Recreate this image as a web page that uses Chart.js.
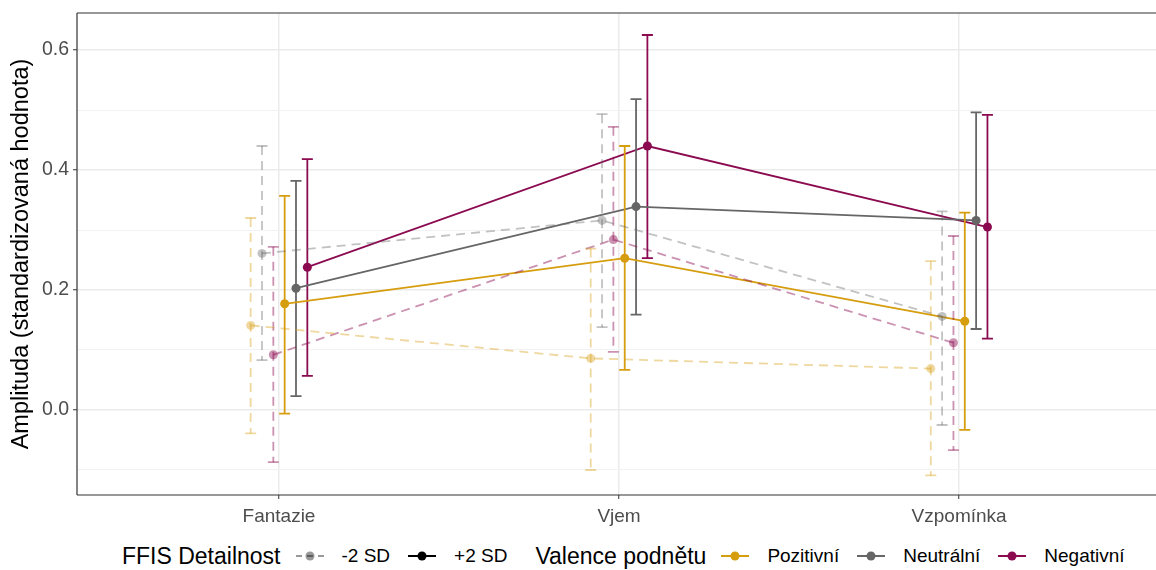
<!DOCTYPE html>
<html lang="cs">
<head>
    <meta charset="UTF-8">
    <title>Amplituda podle FFIS Detailnosti</title>
    <script src="https://cdn.jsdelivr.net/npm/chart.js"></script>
    <style>
        html, body { margin: 0; padding: 0; background: #fff; overflow: hidden; font-family: "Liberation Sans", Arial, sans-serif; }
        .wrap { position: relative; width: 1156px; height: 570px; overflow: hidden; }
        #chart { position: absolute; left: 0; top: 0; }
        .legend { position: absolute; left: 122px; top: 540px; height: 32px; display: flex; align-items: center; white-space: nowrap; }
        .legend .title { font-size: 23px; color: #000; margin-right: 14px; }
        .legend .item { display: flex; align-items: center; font-size: 19px; color: #000; margin-right: 17px; }
        .legend svg { margin-right: 17px; }
        .legend .gap { margin-right: 28px; }
    </style>
</head>
<body>
<div class="wrap">
    <canvas id="chart" width="1156" height="535"></canvas>
    <div class="legend" id="legend"></div>
</div>
<script>
    // categories and groups
    const categories = ['Fantazie', 'Vjem', 'Vzpomínka'];
    const valences = ['Pozitivní', 'Neutrální', 'Negativní'];
    const detailLevels = ['-2 SD', '+2 SD'];

    // -2 SD estimates and confidence limits
    const pozMinus   = [0.141, 0.086, 0.069];
    const pozMinusLo = [-0.039, -0.100, -0.109];
    const pozMinusHi = [0.320, 0.269, 0.248];
    const neuMinus   = [0.261, 0.316, 0.156];
    const neuMinusLo = [0.083, 0.138, -0.025];
    const neuMinusHi = [0.440, 0.493, 0.331];
    const negMinus   = [0.092, 0.284, 0.112];
    const negMinusLo = [-0.087, 0.097, -0.067];
    const negMinusHi = [0.272, 0.472, 0.290];

    // +2 SD estimates and confidence limits
    const pozPlus   = [0.177, 0.253, 0.148];
    const pozPlusLo = [-0.006, 0.067, -0.033];
    const pozPlusHi = [0.357, 0.440, 0.329];
    const neuPlus   = [0.203, 0.339, 0.316];
    const neuPlusLo = [0.023, 0.159, 0.135];
    const neuPlusHi = [0.382, 0.518, 0.496];
    const negPlus   = [0.238, 0.440, 0.305];
    const negPlusLo = [0.057, 0.253, 0.119];
    const negPlusHi = [0.418, 0.625, 0.492];

    const yTicks = [-0.1, 0, 0.1, 0.2, 0.3, 0.4, 0.5, 0.6];
    const yLabelTicks = [0, 0.2, 0.4, 0.6];

    const colors = { 'Pozitivní': '#d69d0e', 'Neutrální': '#666666', 'Negativní': '#8b0a50' };
    const fadedColors = { 'Pozitivní': 'rgba(214,157,14,0.4)', 'Neutrální': 'rgba(102,102,102,0.4)', 'Negativní': 'rgba(139,10,80,0.45)' };

    const series = [
        { val: 'Pozitivní', sd: '-2 SD', y: pozMinus, lo: pozMinusLo, hi: pozMinusHi },
        { val: 'Neutrální', sd: '-2 SD', y: neuMinus, lo: neuMinusLo, hi: neuMinusHi },
        { val: 'Negativní', sd: '-2 SD', y: negMinus, lo: negMinusLo, hi: negMinusHi },
        { val: 'Pozitivní', sd: '+2 SD', y: pozPlus, lo: pozPlusLo, hi: pozPlusHi },
        { val: 'Neutrální', sd: '+2 SD', y: neuPlus, lo: neuPlusLo, hi: neuPlusHi },
        { val: 'Negativní', sd: '+2 SD', y: negPlus, lo: negPlusLo, hi: negPlusHi }
    ];

    const dodge = 0.2;
    const datasets = series.map((s, k) => {
        const offset = (k - (series.length - 1) / 2) * dodge / series.length;
        const dashed = s.sd === '-2 SD';
        const col = dashed ? fadedColors[s.val] : colors[s.val];
        return {
            label: s.val + ' ' + s.sd,
            data: s.y.map((v, i) => ({ x: i + offset, y: v, lo: s.lo[i], hi: s.hi[i] })),
            showLine: true,
            borderColor: col,
            backgroundColor: col,
            pointBackgroundColor: col,
            pointBorderWidth: 0,
            pointRadius: 4.5,
            borderWidth: 1.8,
            borderDash: dashed ? [9, 6] : [],
            dashed: dashed
        };
    });

    // error bars drawn through the scales, right after each dataset
    const errorBars = {
        id: 'errorBars',
        afterDatasetDraw(chart, args) {
            const ds = chart.data.datasets[args.index];
            const xs = chart.scales.x, ys = chart.scales.y;
            const ctx = chart.ctx;
            ctx.save();
            ctx.strokeStyle = ds.borderColor;
            ctx.lineWidth = 1.8;
            ds.data.forEach(p => {
                const px = xs.getPixelForValue(p.x);
                const top = ys.getPixelForValue(p.hi);
                const bot = ys.getPixelForValue(p.lo);
                ctx.setLineDash(ds.dashed ? [9, 6] : []);
                ctx.beginPath();
                ctx.moveTo(px, top); ctx.lineTo(px, bot);
                ctx.stroke();
                ctx.setLineDash([]);
                ctx.beginPath();
                ctx.moveTo(px - 5.5, top); ctx.lineTo(px + 5.5, top);
                ctx.moveTo(px - 5.5, bot); ctx.lineTo(px + 5.5, bot);
                ctx.stroke();
            });
            ctx.restore();
        }
    };

    // panel border: top, left and bottom only, as separate strokes
    const panelBorder = {
        id: 'panelBorder',
        afterDraw(chart) {
            const a = chart.chartArea, ctx = chart.ctx;
            ctx.save();
            ctx.strokeStyle = '#333333';
            ctx.lineWidth = 1.2;
            ctx.lineCap = 'butt';
            [[a.left, a.top, a.right, a.top], [a.left, a.top, a.left, a.bottom], [a.left, a.bottom, a.right, a.bottom]]
                .forEach(l => {
                    ctx.beginPath();
                    ctx.moveTo(l[0], l[1]);
                    ctx.lineTo(l[2], l[3]);
                    ctx.stroke();
                });
            ctx.restore();
        }
    };

    const isLabelTick = v => yLabelTicks.some(t => Math.abs(t - v) < 1e-9);
    const isCategoryTick = v => categories.some((c, i) => Math.abs(i - v) < 1e-9);

    new Chart(document.getElementById('chart'), {
        type: 'scatter',
        data: { datasets: datasets },
        options: {
            responsive: false,
            animation: false,
            events: [],
            layout: { autoPadding: false, padding: { top: 13, right: 0, left: 0, bottom: 0 } },
            plugins: { legend: { display: false }, tooltip: { enabled: false } },
            scales: {
                x: {
                    type: 'linear',
                    min: -0.594,
                    max: 2.579,
                    afterBuildTicks: scale => { scale.ticks = categories.map((c, i) => ({ value: i })); },
                    afterFit: scale => { scale.height = 40; scale.paddingLeft = 0; scale.paddingRight = 0; },
                    ticks: {
                        callback: v => categories[v],
                        color: '#4d4d4d',
                        font: { family: 'Liberation Sans', size: 19 },
                        padding: 6,
                        maxRotation: 0
                    },
                    grid: {
                        color: ctx => ctx.tick && isCategoryTick(ctx.tick.value) ? '#ebebeb' : 'rgba(0,0,0,0)',
                        lineWidth: 1.5,
                        tickLength: 4,
                        tickColor: ctx => ctx.tick && isCategoryTick(ctx.tick.value) ? '#333333' : 'rgba(0,0,0,0)',
                        tickWidth: 1
                    },
                    border: { display: false }
                },
                y: {
                    type: 'linear',
                    min: -0.1417,
                    max: 0.6617,
                    afterBuildTicks: scale => { scale.ticks = yTicks.map(v => ({ value: v })); },
                    afterFit: scale => { scale.width = 77; scale.paddingTop = 0; scale.paddingBottom = 0; },
                    ticks: {
                        callback: v => isLabelTick(v) ? v.toFixed(1) : '',
                        color: '#4d4d4d',
                        font: { family: 'Liberation Sans', size: 19.5 },
                        padding: 4
                    },
                    grid: {
                        color: ctx => isLabelTick(ctx.tick.value) ? '#ebebeb' : '#f2f2f2',
                        lineWidth: ctx => isLabelTick(ctx.tick.value) ? 1.5 : 1,
                        tickLength: 4,
                        tickColor: ctx => isLabelTick(ctx.tick.value) ? '#333333' : 'rgba(0,0,0,0)',
                        tickWidth: 1
                    },
                    border: { display: false },
                    title: {
                        display: true,
                        text: 'Amplituda (standardizovaná hodnota)',
                        color: '#000',
                        font: { family: 'Liberation Sans', size: 23.5 },
                        padding: { top: 7, bottom: 4 }
                    }
                }
            }
        },
        plugins: [errorBars, panelBorder]
    });

    // legend as html text
    function keySvg(color, dashed) {
        const line = dashed
            ? '<line x1="1" y1="9" x2="29" y2="9" stroke="' + color + '" stroke-width="2" stroke-dasharray="6 5"/>'
            : '<line x1="1" y1="9" x2="29" y2="9" stroke="' + color + '" stroke-width="2"/>';
        return '<svg width="30" height="18">' + line + '<circle cx="15" cy="9" r="4.5" fill="' + color + '"/></svg>';
    }
    const legendEl = document.getElementById('legend');
    let html = '<span class="title">FFIS Detailnost</span>';
    html += '<span class="item">' + keySvg('rgba(0,0,0,0.4)', true) + detailLevels[0] + '</span>';
    html += '<span class="item gap">' + keySvg('#000', false) + detailLevels[1] + '</span>';
    html += '<span class="title">Valence podnětu</span>';
    valences.forEach(v => { html += '<span class="item">' + keySvg(colors[v], false) + v + '</span>'; });
    legendEl.innerHTML = html;
</script>
</body>
</html>
